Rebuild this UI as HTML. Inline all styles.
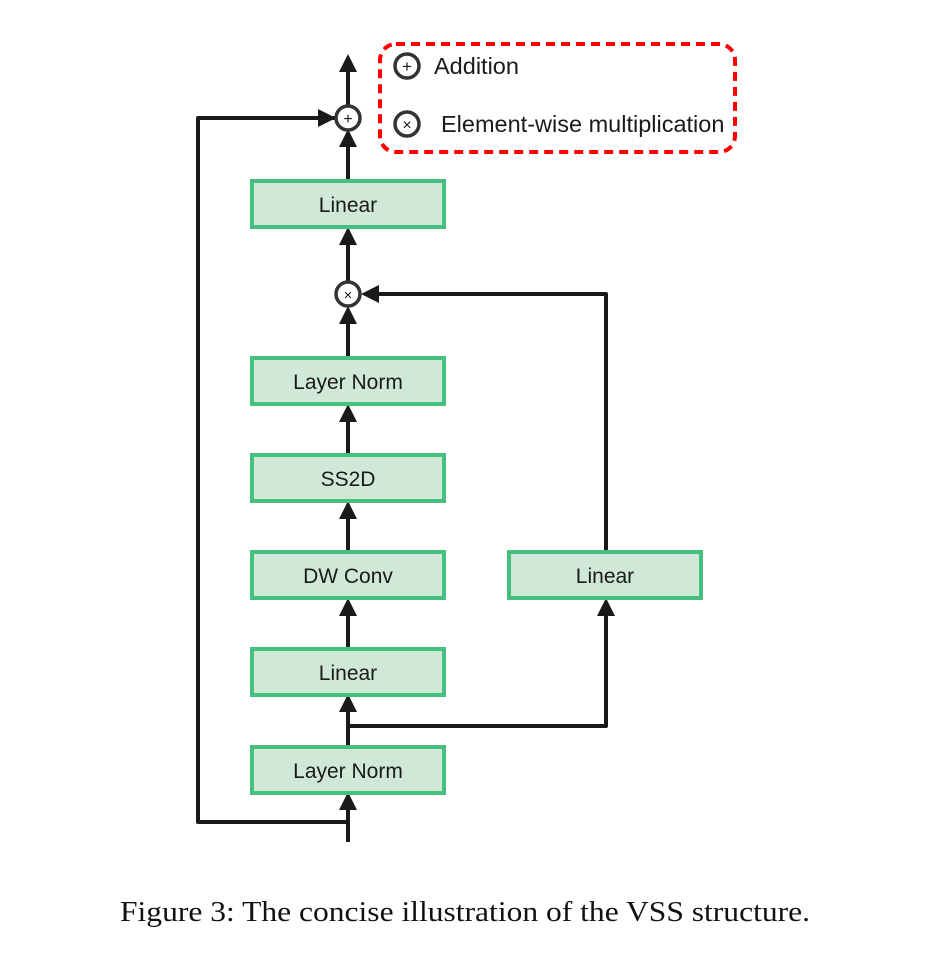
<!DOCTYPE html>
<html><head><meta charset="utf-8"><style>
html,body{margin:0;padding:0;background:#fff;}
svg{display:block;}
.b{fill:#cfe8d8;stroke:#45c07f;stroke-width:4;}
.t{font-family:"Liberation Sans",sans-serif;font-size:21px;fill:#1a1a1a;text-anchor:middle;}
.l{stroke:#1a1a1a;stroke-width:4;fill:none;stroke-linejoin:round;}
.a{fill:#1a1a1a;}
</style></head><body>
<svg width="941" height="967" viewBox="0 0 941 967" xmlns="http://www.w3.org/2000/svg">
<!-- legend -->
<rect x="380" y="44" width="355" height="108" rx="16" fill="none" stroke="#f00" stroke-width="4" stroke-dasharray="9,6"/>
<circle cx="407" cy="66" r="12" fill="#fff" stroke="#333" stroke-width="3.5"/>
<text x="407" y="72" class="t" style="font-size:17px">+</text>
<text x="434" y="74" style="font-family:'Liberation Sans',sans-serif;font-size:23.5px;fill:#1a1a1a">Addition</text>
<circle cx="407" cy="124" r="12" fill="#fff" stroke="#333" stroke-width="3.5"/>
<text x="407" y="130" class="t" style="font-size:16px">×</text>
<text x="441" y="132" style="font-family:'Liberation Sans',sans-serif;font-size:23.5px;fill:#1a1a1a">Element-wise multiplication</text>

<!-- lines -->
<path class="l" d="M348 842 V800"/>
<path class="l" d="M348 822 H198 V118 H335"/>
<path class="l" d="M348 745 V705"/>
<path class="l" d="M348 726 H606 V610"/>
<path class="l" d="M348 647 V610"/>
<path class="l" d="M348 550 V512"/>
<path class="l" d="M348 453 V415"/>
<path class="l" d="M348 356 V318"/>
<path class="l" d="M606 551 V294 H372"/>
<path class="l" d="M348 281 V238"/>
<path class="l" d="M348 179 V142"/>
<path class="l" d="M348 105 V65"/>
<!-- arrowheads -->
<polygon class="a" points="348,54 339,72 357,72"/>
<polygon class="a" points="348,129 339,147 357,147"/>
<polygon class="a" points="336,118 318,109 318,127"/>
<polygon class="a" points="348,227 339,245 357,245"/>
<polygon class="a" points="348,306 339,324 357,324"/>
<polygon class="a" points="361,294 379,285 379,303"/>
<polygon class="a" points="348,404 339,422 357,422"/>
<polygon class="a" points="348,501 339,519 357,519"/>
<polygon class="a" points="348,598 339,616 357,616"/>
<polygon class="a" points="606,598 597,616 615,616"/>
<polygon class="a" points="348,694 339,712 357,712"/>
<polygon class="a" points="348,792 339,810 357,810"/>
<!-- operator circles -->
<circle cx="348" cy="118" r="12" fill="#fff" stroke="#333" stroke-width="3.5"/>
<text x="348" y="124" class="t" style="font-size:16px">+</text>
<circle cx="348" cy="294" r="12" fill="#fff" stroke="#333" stroke-width="3.5"/>
<text x="348" y="300" class="t" style="font-size:15px">×</text>
<!-- boxes -->
<rect class="b" x="252" y="181" width="192" height="46"/><text class="t" x="348" y="212">Linear</text>
<rect class="b" x="252" y="358" width="192" height="46"/><text class="t" x="348" y="389">Layer Norm</text>
<rect class="b" x="252" y="455" width="192" height="46"/><text class="t" x="348" y="486">SS2D</text>
<rect class="b" x="252" y="552" width="192" height="46"/><text class="t" x="348" y="583">DW Conv</text>
<rect class="b" x="509" y="552" width="192" height="46"/><text class="t" x="605" y="583">Linear</text>
<rect class="b" x="252" y="649" width="192" height="46"/><text class="t" x="348" y="680">Linear</text>
<rect class="b" x="252" y="747" width="192" height="46"/><text class="t" x="348" y="778">Layer Norm</text>
<!-- caption -->
<text x="120" y="921" textLength="690" lengthAdjust="spacingAndGlyphs" style="font-family:'Liberation Serif',serif;font-size:29px;fill:#111">Figure 3: The concise illustration of the VSS structure.</text>
</svg>
</body></html>
